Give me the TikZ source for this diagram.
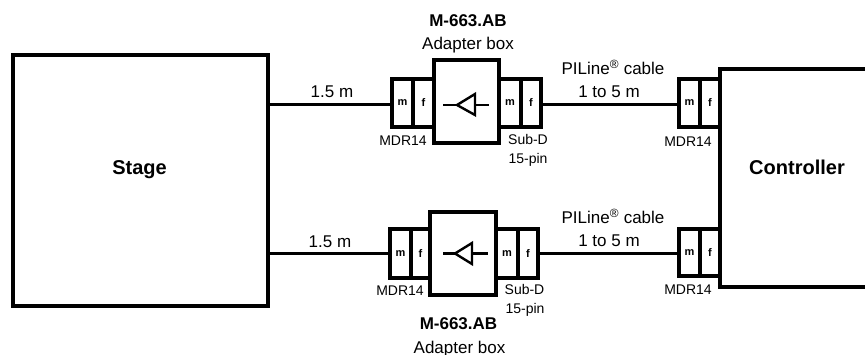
\documentclass[tikz,border=0pt]{standalone}
\usepackage{fontspec}
\setmainfont{Liberation Sans}
\tikzset{
  x=1pt,y=-1pt,
  block/.style={draw=black,line width=4pt,inner sep=0pt,outer sep=0pt},
  cell/.style={draw=black,line width=3.8pt,inner sep=0pt,outer sep=0pt,font=\fontsize{11}{12}\selectfont\bfseries},
  cable/.style={draw=black,line width=3pt},
  amp/.style={draw=black,line width=2.4pt,line join=miter},
  lab/.style={anchor=base,inner sep=0pt,font=\fontsize{17}{20}\selectfont},
  labb/.style={anchor=base,inner sep=0pt,font=\fontsize{17}{20}\selectfont\bfseries},
  small/.style={anchor=base,inner sep=0pt,font=\fontsize{14}{16}\selectfont},
  big/.style={anchor=base,inner sep=0pt,font=\fontsize{20}{24}\selectfont\bfseries},
}
\begin{document}
\begin{tikzpicture}
\clip (0,0) rectangle (865,355);
\fill[white] (0,0) rectangle (865,355);
% main blocks
\node[block,minimum width=255pt,minimum height=251pt] (stage) at (140.5,180.5) {};
\node[block,minimum width=154pt,minimum height=218pt] (ctrl) at (797,178) {};
\node[big] (stagetxt) at (139.5,174.5) {Stage};
\node[big] (ctrltxt) at (797,175) {Controller};
% top adapter
\node[block,minimum width=65pt,minimum height=83pt] (boxA) at (466.5,101.5) {};
\node[cell,minimum width=21pt,minimum height=48pt] (mA) at (402.5,103) {m};
\node[cell,minimum width=21pt,minimum height=48pt] (fA) at (423.5,103) {f};
\node[cell,minimum width=22pt,minimum height=48pt] (mB) at (510,103) {m};
\node[cell,minimum width=20pt,minimum height=48pt] (fB) at (531,103) {f};
% bottom adapter
\node[block,minimum width=66pt,minimum height=83pt] (boxC) at (463,253.5) {};
\node[cell,minimum width=21pt,minimum height=49pt] (mC) at (400.5,253.5) {m};
\node[cell,minimum width=19pt,minimum height=49pt] (fC) at (420.5,253.5) {f};
\node[cell,minimum width=22pt,minimum height=49pt] (mD) at (507,253.5) {m};
\node[cell,minimum width=20pt,minimum height=49pt] (fD) at (528,253.5) {f};
% controller connectors
\node[cell,minimum width=21pt,minimum height=48pt] (mE) at (689.5,103) {m};
\node[cell,minimum width=20pt,minimum height=48pt] (fE) at (710,103) {f};
\node[cell,minimum width=21pt,minimum height=47pt] (mF) at (689.5,252.5) {m};
\node[cell,minimum width=20pt,minimum height=47pt] (fF) at (710,252.5) {f};
% cables
\draw[cable] ([yshift=-2pt]mA.west) -- ([yshift=-2pt]mA.west -| stage.east);
\draw[cable] ([yshift=-2pt]fB.east) -- ([yshift=-2pt]fB.east -| mE.west);
\draw[cable] (mC.west) -- (mC.west -| stage.east);
\draw[cable] (fD.east) -- (fD.east -| mF.west);
% amplifier symbols
\draw[amp] (443,105) -- (457,105);
\draw[amp] (457,105) -- (475,94) -- (475,115) -- cycle;
\draw[amp] (475,105) -- (489,105);
\draw[amp] (443,253.5) -- (455,253.5);
\draw[amp] (455,253.5) -- (472,243) -- (472,264) -- cycle;
\draw[amp] (472,253.5) -- (488,253.5);
% labels
\node[labb] (t1) at (468,27) {M-663.AB};
\node[lab] (t2) at (468,49.5) {Adapter box};
\node[labb] (t3) at (458.5,330) {M-663.AB};
\node[lab] (t4) at (459.5,353) {Adapter box};
\node[lab] (t5) at (332,97.5) {1.5 m};
\node[lab] (t6) at (330,247.5) {1.5 m};
\node[lab] (t7) at (613,74.5) {PILine\textsuperscript{®} cable};
\node[lab] (t8) at (609,97.5) {1 to 5 m};
\node[lab] (t9) at (613,223.5) {PILine\textsuperscript{®} cable};
\node[lab] (t10) at (609,246.5) {1 to 5 m};
\node[small] (s1) at (403,145.5) {MDR14};
\node[small] (s2) at (528,145) {Sub-D};
\node[small] (s3) at (528,164) {15-pin};
\node[small] (s4) at (400,295.5) {MDR14};
\node[small] (s5) at (524.5,295) {Sub-D};
\node[small] (s6) at (525,314) {15-pin};
\node[small] (s7) at (688,147) {MDR14};
\node[small] (s8) at (688,295) {MDR14};
\end{tikzpicture}
\end{document}
